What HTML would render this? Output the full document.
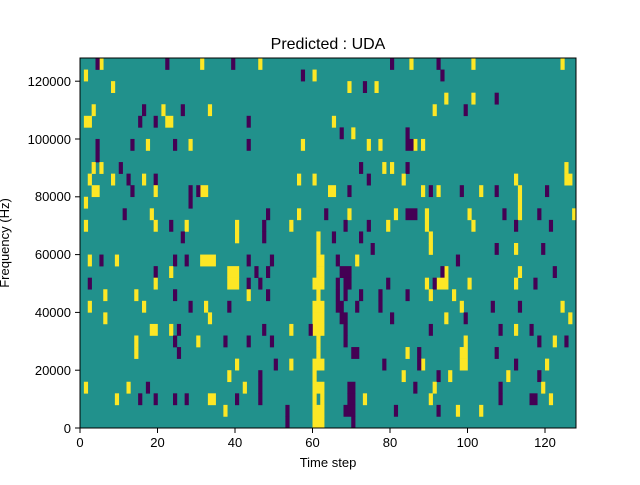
<!DOCTYPE html>
<html><head><meta charset="utf-8"><style>
html,body{margin:0;padding:0;background:#fff;}
svg text{font-family:"Liberation Sans","DejaVu Sans",sans-serif;fill:#000;}
</style></head><body>
<svg id="s" width="640" height="480" xmlns="http://www.w3.org/2000/svg">
<rect x="0" y="0" width="640" height="480" fill="#fff"/>
<rect x="80" y="58" width="496" height="370" fill="#21918c"/>
<g id="cells"></g>
<rect x="80" y="58" width="496" height="370" fill="none" stroke="#000" stroke-width="1"/>
<g stroke="#000" stroke-width="1">
<line x1="80" y1="428" x2="80" y2="433"/><line x1="157.5" y1="428" x2="157.5" y2="433"/>
<line x1="235" y1="428" x2="235" y2="433"/><line x1="312.5" y1="428" x2="312.5" y2="433"/>
<line x1="390" y1="428" x2="390" y2="433"/><line x1="467.5" y1="428" x2="467.5" y2="433"/>
<line x1="545" y1="428" x2="545" y2="433"/>
<line x1="75" y1="428" x2="80" y2="428"/><line x1="75" y1="370.2" x2="80" y2="370.2"/>
<line x1="75" y1="312.4" x2="80" y2="312.4"/><line x1="75" y1="254.6" x2="80" y2="254.6"/>
<line x1="75" y1="196.8" x2="80" y2="196.8"/><line x1="75" y1="139" x2="80" y2="139"/>
<line x1="75" y1="81.2" x2="80" y2="81.2"/>
</g>
<g font-size="13" text-anchor="middle">
<text x="80" y="447">0</text><text x="157.5" y="447">20</text><text x="235" y="447">40</text>
<text x="312.5" y="447">60</text><text x="390" y="447">80</text><text x="467.5" y="447">100</text>
<text x="545" y="447">120</text>
</g>
<g font-size="13" text-anchor="end">
<text x="71" y="433">0</text><text x="71" y="375">20000</text><text x="71" y="317">40000</text>
<text x="71" y="259">60000</text><text x="71" y="201">80000</text><text x="71" y="144">100000</text>
<text x="71" y="86">120000</text>
</g>
<text x="328" y="467" font-size="13" text-anchor="middle">Time step</text>
<text x="0" y="0" font-size="13" text-anchor="middle" transform="translate(9,243) rotate(-90)">Frequency (Hz)</text>
<text x="328" y="49" font-size="16" text-anchor="middle">Predicted : UDA</text>
</svg>
<script>
var Y=[
"5,31,46,85,101,124","1,60","8,69,76","94,101","3,21,33,91","1-2,22-23,65","70",
"17,28,57,74,77,86,88","","3,5,78,80,125","2,8,16,56,60,83,112,125-126",
"3-4,19,31-32,64-65,88,92,103,113","1,113","18,56,69,81,89,100,113,127",
"1,19,27,40,54,79,89,101","40,61,90","61,90,112","2,9,31-34,61-62,71","23,38-40,61-62,94,113",
"19,38-40,60-62,89,92-94,100,112","6,14,43,61,90,96","2,16,32,60-62,98,124","6,33,60-62,94,126",
"18-19,23,54,60-62,112","14,30,61,99,122","14,61,84,98-99","40,54,60-62,88,98-99,120",
"38,60,83,95,110","1,12,42,60-62,91,119","9,33-34,60,62,73,90,121","37,60-62,97,103","60-62"];
var P=[
"4,22,39,80,92","57,93","73","107","16,26,99","15,19,43","67,84",
"4,13,24,43,84-85","4","10,72,84","12,19,74",
"13,28,30,69,90,98,107,120","28","11,48,63,84-86,109,118",
"23,47,68,74,112,121","26,47,65,72","75,107,119","5,24,27,43,49,66,97","19,45,48,67-69,93,122",
"2,43,46,66,68-69,79,91,117","24,48,66,68,72,77,84","28,38,66-67,71,77,106,113","67-68,80,99",
"25,47,59,68,90,108,116","24,37,43,49,68,118,125","25,70-71,87,107","50,78,87,112",
"46,92,118","17,46,69-70,86,108","15,19,24,27,40,46,69-70,108,116-117","53,68-70,81,92","53,70"];
var g=document.getElementById('cells'),h='',cw=496/128,rh=370/32;
function add(s,r,c){if(!s)return;s.split(',').forEach(function(t){var a=t.split('-'),b=+a[0],e=a.length>1?+a[1]:b;
h+='<rect x="'+(80+b*cw).toFixed(2)+'" y="'+(58+r*rh).toFixed(2)+'" width="'+((e-b+1)*cw+0.3).toFixed(2)+'" height="'+(rh+0.3).toFixed(2)+'" fill="'+c+'"/>';});}
for(var r=0;r<32;r++){add(Y[r],r,'#fde725');add(P[r],r,'#440154');}
g.innerHTML=h;
</script>
</body></html>
